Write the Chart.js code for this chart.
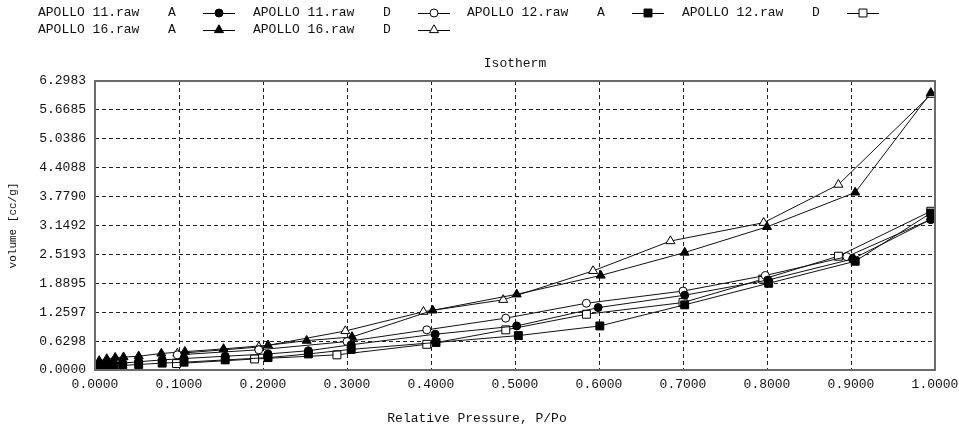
<!DOCTYPE html>
<html>
<head>
<meta charset="utf-8">
<title>Isotherm</title>
<script src="https://cdn.jsdelivr.net/npm/chart.js@4.4.1/dist/chart.umd.min.js"></script>
<style>
  html, body { margin: 0; padding: 0; background: #fff; }
</style>
</head>
<body>
<canvas id="isoChart" width="959" height="430"></canvas>
<script>
// tick labels on both axes
const xTicks = [0.0, 0.1, 0.2, 0.3, 0.4, 0.5, 0.6, 0.7, 0.8, 0.9, 1.0];
const yTicks = [0.0000, 0.6298, 1.2597, 1.8895, 2.5193, 3.1492, 3.7790, 4.4088, 5.0386, 5.6685, 6.2983];

// sample files and branch (A = adsorption, D = desorption)
const sampleNames = ['APOLLO 11.raw', 'APOLLO 11.raw', 'APOLLO 12.raw', 'APOLLO 12.raw', 'APOLLO 16.raw', 'APOLLO 16.raw'];
const branches = ['A', 'D', 'A', 'D', 'A', 'D'];

// relative pressure P/Po and volume (cc/g) for each run
const apollo11A_p = [0.004, 0.012, 0.022, 0.033, 0.052, 0.080, 0.106, 0.155, 0.206, 0.254, 0.305, 0.405, 0.502, 0.599, 0.702, 0.801, 0.902, 0.995];
const apollo11A_v = [0.10, 0.12, 0.14, 0.15, 0.18, 0.22, 0.25, 0.30, 0.35, 0.42, 0.55, 0.78, 0.96, 1.36, 1.63, 1.96, 2.42, 3.28];

const apollo11D_p = [0.995, 0.895, 0.798, 0.700, 0.585, 0.489, 0.395, 0.300, 0.195, 0.098];
const apollo11D_v = [3.28, 2.47, 2.06, 1.72, 1.455, 1.13, 0.875, 0.62, 0.44, 0.33];

const apollo12A_p = [0.004, 0.012, 0.022, 0.033, 0.052, 0.080, 0.106, 0.155, 0.206, 0.254, 0.305, 0.406, 0.504, 0.601, 0.702, 0.802, 0.905, 0.995];
const apollo12A_v = [0.06, 0.08, 0.09, 0.10, 0.12, 0.15, 0.17, 0.22, 0.27, 0.35, 0.45, 0.60, 0.75, 0.96, 1.42, 1.89, 2.37, 3.42];

const apollo12D_p = [0.995, 0.885, 0.795, 0.700, 0.585, 0.489, 0.395, 0.288, 0.190, 0.097];
const apollo12D_v = [3.46, 2.48, 1.98, 1.47, 1.215, 0.875, 0.56, 0.33, 0.24, 0.14];

const apollo16A_p = [0.005, 0.014, 0.024, 0.034, 0.052, 0.079, 0.107, 0.153, 0.206, 0.252, 0.306, 0.402, 0.502, 0.602, 0.702, 0.800, 0.905, 0.995];
const apollo16A_v = [0.20, 0.24, 0.27, 0.28, 0.30, 0.36, 0.40, 0.46, 0.54, 0.64, 0.72, 1.30, 1.65, 2.06, 2.56, 3.12, 3.87, 6.04];

const apollo16D_p = [0.995, 0.885, 0.796, 0.685, 0.593, 0.486, 0.391, 0.298, 0.195, 0.098];
const apollo16D_v = [6.00, 4.04, 3.21, 2.81, 2.16, 1.53, 1.27, 0.85, 0.50, 0.36];

const runP = [apollo11A_p, apollo11D_p, apollo12A_p, apollo12D_p, apollo16A_p, apollo16D_p];
const runV = [apollo11A_v, apollo11D_v, apollo12A_v, apollo12D_v, apollo16A_v, apollo16D_v];

// marker per run: filled for adsorption, hollow for desorption
const markerStyle = ['circle', 'circle', 'rect', 'rect', 'triangle', 'triangle'];
const markerFill = ['#000', '#fff', '#000', '#fff', '#000', '#fff'];
const markerSize = { circle: 4, rect: 5.6, triangle: 5.2 };

const monoFont = "'Liberation Mono', 'Courier New', monospace";
const inkColor = '#111';

function toPoints(p, v) {
    let pts = [];
    for (let i = 0; i < p.length; i++) {
        pts.push({ x: p[i], y: v[i] });
    }
    return pts;
}

let datasets = [];
for (let i = 0; i < runP.length; i++) {
    datasets.push({
        label: sampleNames[i] + ' ' + branches[i],
        data: toPoints(runP[i], runV[i]),
        showLine: true,
        borderColor: inkColor,
        borderWidth: 1,
        pointStyle: markerStyle[i],
        pointRadius: markerSize[markerStyle[i]],
        pointBackgroundColor: markerFill[i],
        pointBorderColor: '#000',
        pointBorderWidth: 1
    });
}

// draw one marker by hand (used for the legend keys)
function drawMarker(ctx, style, fill, x, y) {
    let r = markerSize[style];
    ctx.beginPath();
    if (style == 'circle') {
        ctx.arc(x, y, r, 0, Math.PI * 2);
    } else if (style == 'rect') {
        let s = r * Math.SQRT1_2;
        ctx.rect(x - s, y - s, 2 * s, 2 * s);
    } else {
        ctx.moveTo(x, y - r);
        ctx.lineTo(x + Math.sin(Math.PI * 2 / 3) * r, y + r / 2);
        ctx.lineTo(x - Math.sin(Math.PI * 2 / 3) * r, y + r / 2);
        ctx.closePath();
    }
    ctx.fillStyle = fill;
    ctx.fill();
    ctx.strokeStyle = '#000';
    ctx.lineWidth = 1;
    ctx.stroke();
}

// legend slots: row y and left x of each entry
const legendSlots = [
    { x: 38, y: 13 }, { x: 253, y: 13 }, { x: 467, y: 13 }, { x: 682, y: 13 },
    { x: 38, y: 30 }, { x: 253, y: 30 }
];

const decorPlugin = {
    id: 'decor',
    afterDraw(chart) {
        const ctx = chart.ctx;
        const area = chart.chartArea;
        ctx.save();

        // frame around the plot
        ctx.strokeStyle = '#6a6a6a';
        ctx.lineWidth = 2;
        ctx.setLineDash([]);
        ctx.strokeRect(area.left, area.top, area.right - area.left, area.bottom - area.top);

        // legend
        ctx.font = '13px ' + monoFont;
        ctx.fillStyle = inkColor;
        ctx.textBaseline = 'middle';
        ctx.textAlign = 'left';
        legendSlots.forEach((slot, i) => {
            ctx.fillStyle = inkColor;
            ctx.fillText(sampleNames[i], slot.x, slot.y);
            ctx.fillText(branches[i], slot.x + 130, slot.y);
            ctx.strokeStyle = '#000';
            ctx.lineWidth = 1;
            ctx.beginPath();
            ctx.moveTo(slot.x + 165, slot.y + 0.5);
            ctx.lineTo(slot.x + 197, slot.y + 0.5);
            ctx.stroke();
            drawMarker(ctx, markerStyle[i], markerFill[i], slot.x + 181, slot.y);
        });

        // title and axis titles
        ctx.fillStyle = inkColor;
        ctx.textAlign = 'center';
        ctx.fillText('Isotherm', (area.left + area.right) / 2, 64);
        ctx.fillText('Relative Pressure, P/Po', 477, 419);

        ctx.font = '11px ' + monoFont;
        ctx.translate(13, (area.top + area.bottom) / 2);
        ctx.rotate(-Math.PI / 2);
        ctx.fillText('volume [cc/g]', 0, 0);
        ctx.restore();
    }
};

const tickFont = { family: monoFont, size: 13 };

var ctx = document.getElementById('isoChart').getContext('2d');
var isoChart = new Chart(ctx, {
    type: 'scatter',
    data: { datasets: datasets },
    options: {
        responsive: false,
        animation: false,
        layout: { padding: { left: 0, right: 24, top: 81, bottom: 0 } },
        plugins: {
            legend: { display: false },
            tooltip: { enabled: false }
        },
        scales: {
            x: {
                type: 'linear',
                min: 0,
                max: 1,
                afterBuildTicks: s => { s.ticks = xTicks.map(v => ({ value: v })); },
                // fixed band under the plot; end labels may hang into the margin
                afterFit: s => { s.height = 60; s.paddingLeft = 0; s.paddingRight = 0; },
                ticks: {
                    callback: v => v.toFixed(4),
                    font: tickFont,
                    color: inkColor,
                    padding: 7,
                    maxRotation: 0,
                    autoSkip: false
                },
                grid: { color: '#222', lineWidth: 1, drawTicks: false },
                border: { display: false, dash: [4, 3] }
            },
            y: {
                type: 'linear',
                min: 0,
                max: 6.2983,
                afterBuildTicks: s => { s.ticks = yTicks.map(v => ({ value: v })); },
                afterFit: s => { s.width = 95; s.paddingTop = 0; s.paddingBottom = 0; },
                ticks: {
                    callback: v => v.toFixed(4),
                    font: tickFont,
                    color: inkColor,
                    padding: 9,
                    autoSkip: false
                },
                grid: { color: '#222', lineWidth: 1, drawTicks: false },
                border: { display: false, dash: [4, 3] }
            }
        }
    },
    plugins: [decorPlugin]
});
</script>
</body>
</html>
